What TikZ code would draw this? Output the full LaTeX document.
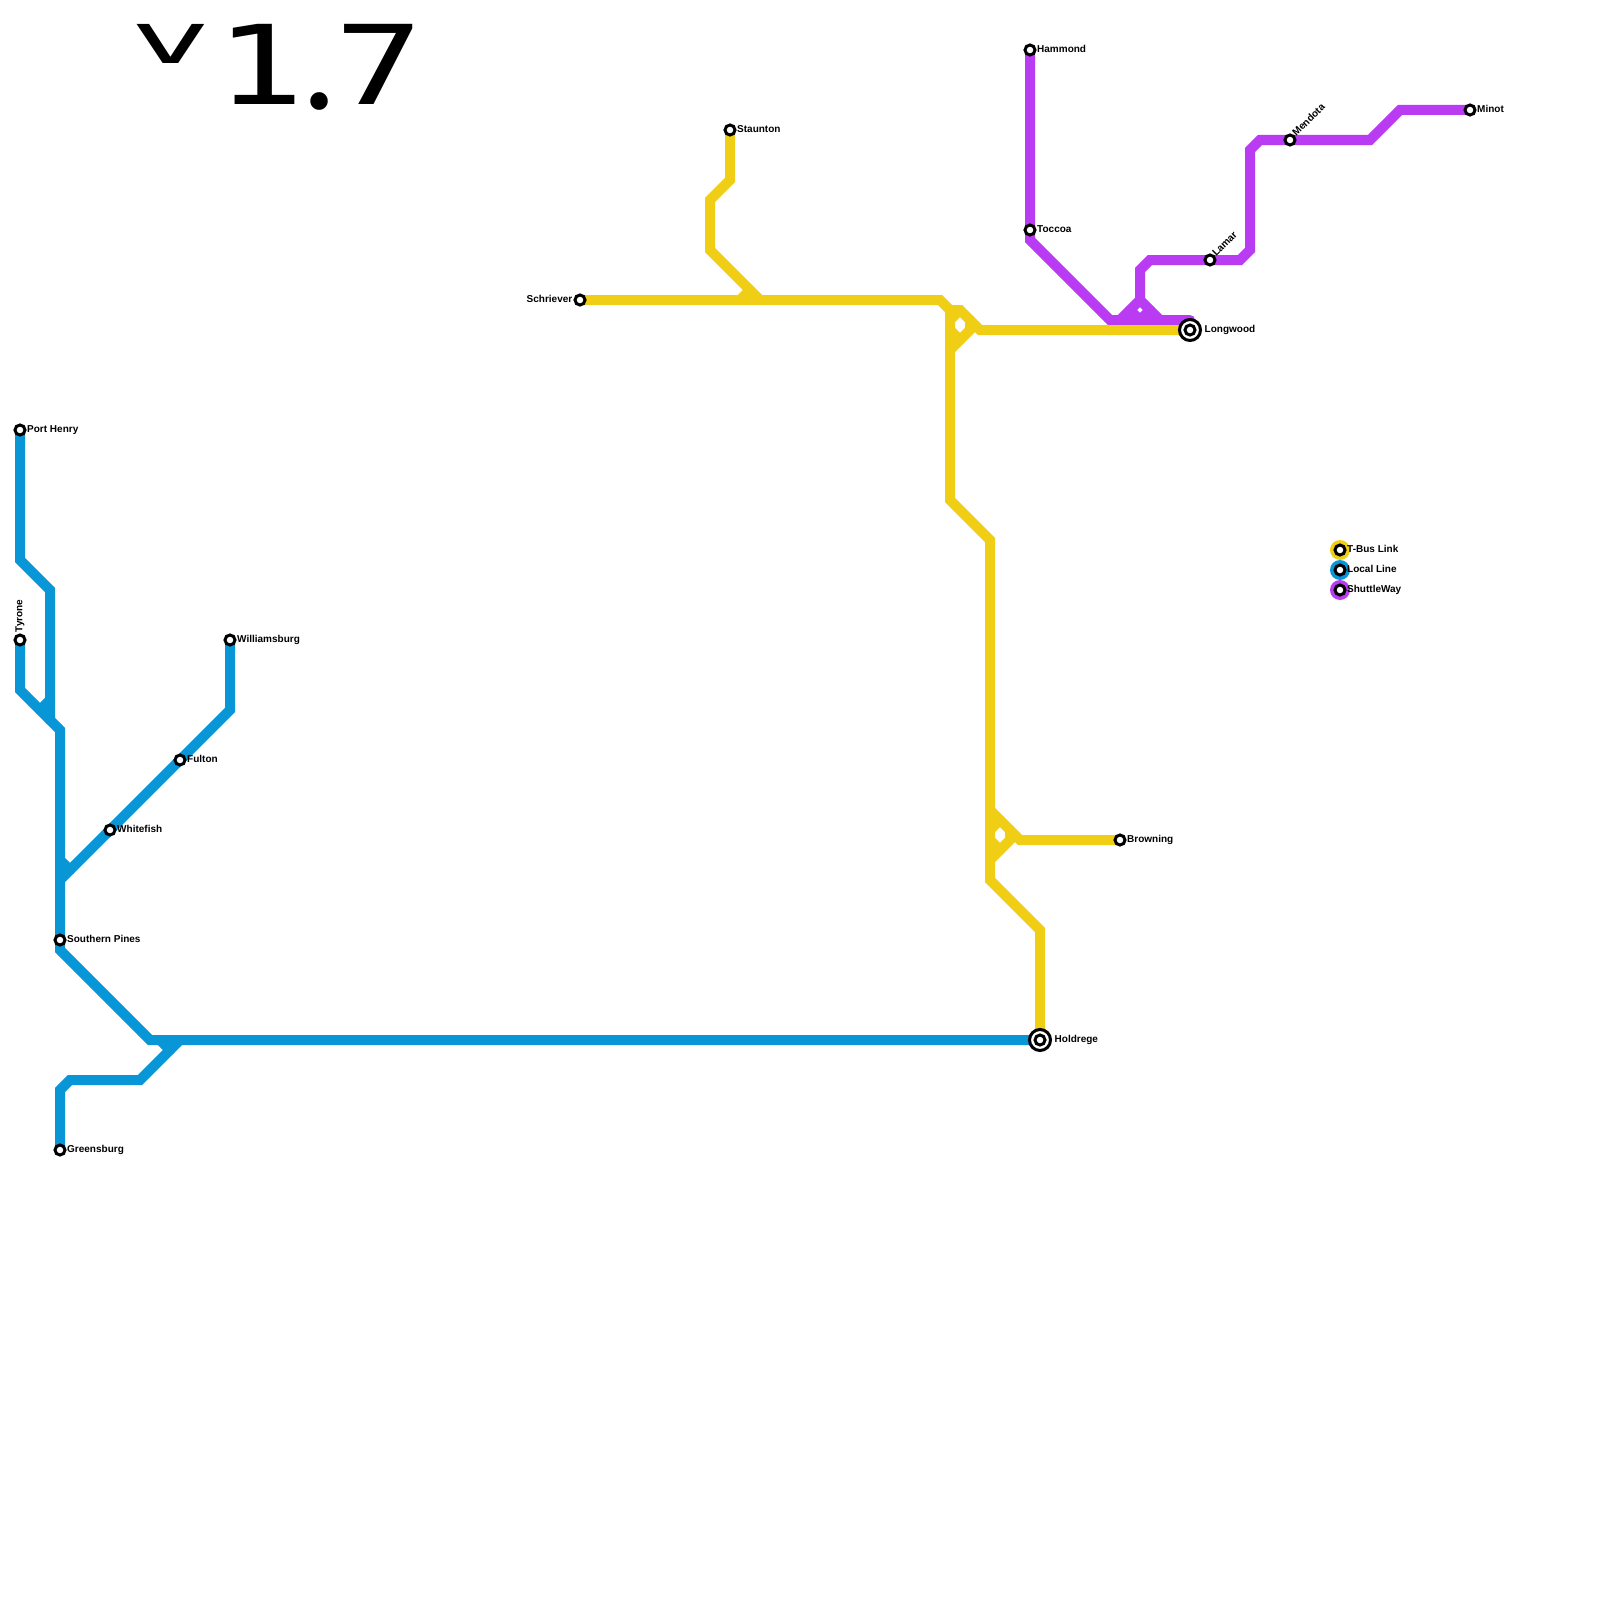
\documentclass[tikz,border=0pt]{standalone}
\usepackage{fontspec}
\usepackage{graphicx}
\usepackage{xcolor}
\usepackage{tikz}
\usetikzlibrary{positioning,backgrounds}
\setmainfont{Liberation Sans}
\newfontfamily\titlefont{DejaVu Sans Mono}
\newfontfamily\titledot{Poppins}
\definecolor{busyellow}  {RGB}{240,206,21}
\definecolor{localblue}  {RGB}{8,150,215}
\definecolor{shuttlepurple}{RGB}{185,60,243}
\tikzset{
  route/.style  ={line width=10pt, line cap=round, line join=miter},
  busline/.style={route, draw=busyellow},
  locline/.style={route, draw=localblue},
  shuline/.style={route, draw=shuttlepurple},
  stn/.style    ={circle, draw=black, fill=white, line width=3pt,
                  minimum size=10pt, inner sep=0pt},
  hub/.style    ={circle, draw=black, fill=white, line width=3pt,
                  minimum size=21pt, inner sep=0pt},
  key/.style    ={circle, minimum size=20pt, inner sep=0pt},
  lbl/.style    ={font=\fontsize{10}{12}\selectfont\bfseries, inner sep=0pt,
                  text height=6.6pt, text depth=2pt},
}
\begin{document}
\begin{tikzpicture}[x=1pt,y=-1pt]
  \useasboundingbox (0,0) rectangle (1600,1600);
  \node[anchor=base west, inner sep=0pt, font=\fontsize{110}{110}\titlefont] (title)
    at (130.5,105) {\raisebox{41pt}{\scalebox{1.22}[0.65]{v}}\hspace{3.8pt}\scalebox{1.35}[1]{1}\hspace{-0.2pt}\raisebox{-5pt}{\scalebox{1.3}{\titledot .}}\hspace{0.2pt}\scalebox{1.35}[1]{7}};
  %% blue stations
  \node[stn] (porthenry) at (20,430) {};
  \node[stn] (tyrone) at (20,640) {};
  \node[stn] (williamsburg) at (230,640) {};
  \node[stn] (fulton) at (180,760) {};
  \node[stn] (whitefish) at (110,830) {};
  \node[stn] (southern) at (60,940) {};
  \node[stn] (greensburg) at (60,1150) {};
  %% yellow stations
  \node[stn] (staunton) at (730,130) {};
  \node[stn] (schriever) at (580,300) {};
  \node[stn] (browning) at (1120,840) {};
  %% purple stations
  \node[stn] (hammond) at (1030,50) {};
  \node[stn] (toccoa) at (1030,230) {};
  \node[stn] (lamar) at (1210,260) {};
  \node[stn] (mendota) at (1290,140) {};
  \node[stn] (minot) at (1470,110) {};
  %% interchanges
  \node[hub] (longwoodring) at (1190,330) {};
  \node[stn] (longwood) at (1190,330) {};
  \node[hub] (holdregering) at (1040,1040) {};
  \node[stn] (holdrege) at (1040,1040) {};
  \coordinate (purpleend) at (1190,320);
  %% legend
  \node[key, fill=busyellow] (keybus) at (1340,550) {};
  \node[key, fill=localblue] (keyloc) at (1340,570) {};
  \node[key, fill=shuttlepurple] (keyshu) at (1340,590) {};
  \node[stn] (keybusstn) at (keybus) {};
  \node[stn] (keylocstn) at (keyloc) {};
  \node[stn] (keyshustn) at (keyshu) {};
  %% labels
  \node[lbl, right=0.5pt of porthenry] (lporthenry) {Port Henry};
  \node[lbl, above=1pt of tyrone, anchor=west, rotate=90] (ltyrone) {Tyrone};
  \node[lbl, right=0.5pt of williamsburg] (lwilliamsburg) {Williamsburg};
  \node[lbl, right=0.5pt of fulton] (lfulton) {Fulton};
  \node[lbl, right=0.5pt of whitefish] (lwhitefish) {Whitefish};
  \node[lbl, right=0.5pt of southern] (lsouthern) {Southern Pines};
  \node[lbl, right=0.5pt of greensburg] (lgreensburg) {Greensburg};
  \node[lbl, right=0.5pt of staunton] (lstaunton) {Staunton};
  \node[lbl, left=1pt of schriever] (lschriever) {Schriever};
  \node[lbl, right=0.5pt of browning] (lbrowning) {Browning};
  \node[lbl, right=0.5pt of hammond] (lhammond) {Hammond};
  \node[lbl, right=0.5pt of toccoa] (ltoccoa) {Toccoa};
  \node[lbl, above right=0pt of lamar, anchor=west, rotate=45] (llamar) {Lamar};
  \node[lbl, above right=0pt of mendota, anchor=west, rotate=45] (lmendota) {Mendota};
  \node[lbl, right=0.5pt of minot] (lminot) {Minot};
  \node[lbl, right=2.5pt of longwoodring] (llongwood) {Longwood};
  \node[lbl, right=2.5pt of holdregering] (lholdrege) {Holdrege};
  \node[lbl, right=0.5pt of keybusstn] (lkeybus) {T-Bus Link};
  \node[lbl, right=0.5pt of keylocstn] (lkeyloc) {Local Line};
  \node[lbl, right=0.5pt of keyshustn] (lkeyshu) {ShuttleWay};
  \begin{scope}[on background layer]
    %% purple
    \draw[shuline] (hammond.center)--(toccoa.center)--(1030,240)--(1110,320)--(purpleend);
    \draw[shuline] (1120,320)--(1140,300)--(1160,320);
    \draw[shuline] (1130,310)--(1140,320)--(1150,310);
    \draw[shuline] (1140,300)--(1140,270)--(1150,260)--(lamar.center)--(1240,260)
      --(1250,250)--(1250,150)--(1260,140)--(mendota.center)--(1370,140)--(1400,110)--(minot.center);
    %% yellow
    \draw[busline] (staunton.center)--(730,180)--(710,200)--(710,250)--(760,300);
    \draw[busline] (750,290)--(740,300);
    \draw[busline] (schriever.center)--(940,300)--(950,310)--(950,500)--(990,540)
      --(990,880)--(1040,930)--(holdrege.center);
    \draw[busline] (950,310)--(960,310)--(980,330)--(longwood.center);
    \draw[busline] (950,350)--(970,330)--(970,320);
    \draw[busline] (950,320)--(960,310);
    \draw[busline] (950,330)--(960,340);
    \draw[busline] (990,810)--(1020,840)--(browning.center);
    \draw[busline] (990,860)--(1010,840)--(1010,830);
    \draw[busline] (990,830)--(1000,820);
    \draw[busline] (990,840)--(1000,850);
    %% blue
    \draw[locline] (porthenry.center)--(20,560)--(50,590)--(50,720);
    \draw[locline] (50,700)--(40,710);
    \draw[locline] (tyrone.center)--(20,690)--(60,730)--(southern.center)--(60,950)
      --(150,1040)--(holdrege.center);
    \draw[locline] (williamsburg.center)--(230,710)--(fulton.center)--(whitefish.center)--(60,880);
    \draw[locline] (60,860)--(70,870);
    \draw[locline] (greensburg.center)--(60,1090)--(70,1080)--(140,1080)--(180,1040);
    \draw[locline] (160,1040)--(170,1050);
  \end{scope}
\end{tikzpicture}
\end{document}
